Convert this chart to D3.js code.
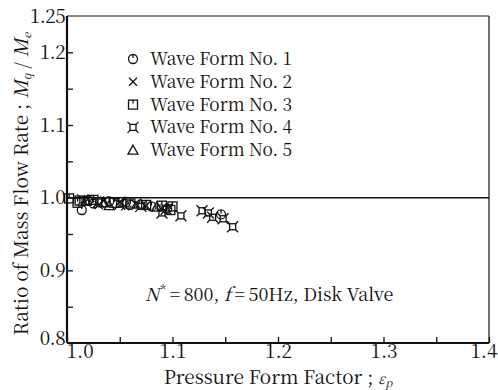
<!DOCTYPE html>
<html><head><meta charset="utf-8">
<script src="https://cdn.jsdelivr.net/npm/d3@7"></script>
<style>body{margin:0;background:#fff}svg{display:block}</style>
</head><body><svg id="c" width="498" height="390"></svg>
<script>
const xTicks=[1.0,1.1,1.2,1.3,1.4];
const yTicks=[0.8,0.9,1.0,1.1,1.2,1.25];
const seriesNames=["Wave Form No. 1","Wave Form No. 2","Wave Form No. 3","Wave Form No. 4","Wave Form No. 5"];
const wave1=[[1.014,0.983],[1.025,0.992],[1.04,0.995],[1.06,0.990],[1.08,0.988],[1.095,0.985],[1.146,0.977],[1.02,0.996]];
const wave2=[[1.02,0.998],[1.035,0.996],[1.05,0.994],[1.065,0.992],[1.075,0.989],[1.09,0.986],[1.03,0.990],[1.055,0.988]];
const wave3=[[1.002,0.999],[1.012,0.996],[1.025,0.997],[1.045,0.993],[1.06,0.992],[1.075,0.990],[1.09,0.989],[1.1,0.988],[1.098,0.983],[1.01,0.993]];
const wave4=[[1.015,0.997],[1.03,0.994],[1.05,0.991],[1.07,0.988],[1.09,0.979],[1.094,0.984],[1.108,0.975],[1.128,0.982],[1.134,0.979],[1.138,0.973],[1.148,0.971],[1.157,0.960]];
const wave5=[[1.018,0.995],[1.035,0.993],[1.055,0.994],[1.07,0.991],[1.085,0.987],[1.04,0.989]];
const allSeries=[wave1,wave2,wave3,wave4,wave5];

const svg=d3.select("#c");
const L=67,R=489,T=16,B=343;
const x=d3.scaleLinear().domain([1.0,1.4]).range([L,R]);
const y=d3.scaleLinear().domain([0.8,1.25]).range([B,T]);
const FS=18, TFS=19;

svg.append("line").attr("x1",L).attr("x2",R).attr("y1",T).attr("y2",T).attr("stroke","#111").attr("stroke-width",1);
svg.append("line").attr("x1",R).attr("x2",R).attr("y1",T).attr("y2",B).attr("stroke","#111").attr("stroke-width",1.2);

const xa=d3.axisBottom(x).tickValues(d3.range(1.0,1.4001,0.05)).tickSize(-6).tickFormat(d=>{const v=Math.round(d*100)/100;return xTicks.some(t=>Math.abs(t-v)<1e-6)?v.toFixed(1):"";}).tickPadding(1);
const gx=svg.append("g").attr("transform",`translate(0,${B})`).call(xa).attr("font-size",TFS);
gx.select(".domain").attr("stroke-width",2.2).attr("d",`M${L},0H${R}`);
gx.selectAll("line").attr("stroke-width",1.3);
gx.selectAll("text").attr("dy","0.72em").attr("fill","#111");
gx.selectAll(".tick").filter(d=>Math.abs(d-1.0)<1e-6).select("text").attr("text-anchor","start").attr("x",-1);
gx.selectAll(".tick").filter(d=>Math.abs(d-1.4)<1e-6).select("text").attr("text-anchor","end").attr("x",8);
const ya=d3.axisLeft(y).tickValues(d3.range(0.8,1.2501,0.05)).tickSize(-6).tickFormat(d=>{const v=Math.round(d*100)/100;const f=yTicks.find(t=>Math.abs(t-v)<1e-6);return f===undefined?"":(Math.abs(f-1.25)<1e-6?"1.25":f.toFixed(1));}).tickPadding(2);
const gy=svg.append("g").attr("transform",`translate(${L},0)`).call(ya).attr("font-size",TFS);
gy.select(".domain").attr("stroke-width",2.2).attr("d",`M0,${B}V${T}`);
gy.selectAll("line").attr("stroke-width",1.3);
gy.selectAll(".tick").filter(d=>Math.abs(d-1.25)<1e-6||Math.abs(d-0.8)<1e-6).select("line").remove();
gy.selectAll(".tick").filter(d=>Math.abs(d-0.8)<1e-6).select("text").attr("dy","0.1em");
gy.selectAll("text").attr("fill","#111").attr("letter-spacing",-0.6);
svg.selectAll(".domain,.tick line").attr("stroke","#111");

svg.append("line").attr("x1",x(1.0)).attr("x2",x(1.4)).attr("y1",y(1.0)).attr("y2",y(1.0)).attr("stroke","#111").attr("stroke-width",1.5);

function marker(g,i,cx,cy){
  const s=g.append("g").attr("transform",`translate(${cx},${cy})`).attr("fill","none").attr("stroke","#111").attr("stroke-width",1.3);
  if(i===0){s.append("circle").attr("r",4.5);s.append("line").attr("x1",0).attr("x2",0).attr("y1",-4.5).attr("y2",-1);}
  else if(i===1){s.append("path").attr("d","M-4,-4L4,4M-4,4L4,-4");}
  else if(i===2){s.append("rect").attr("x",-4.5).attr("y",-4.5).attr("width",9).attr("height",9);s.append("line").attr("x1",0).attr("x2",0).attr("y1",-4.5).attr("y2",-1);}
  else if(i===3){s.append("rect").attr("x",-3).attr("y",-3).attr("width",6).attr("height",6);s.append("path").attr("d","M-5.5,-5.5L-3,-3M5.5,-5.5L3,-3M-5.5,5.5L-3,3M5.5,5.5L3,3");}
  else {s.append("path").attr("d","M0,-5L5,4H-5Z");}
}
const pg=svg.append("g");
allSeries.forEach((ser,i)=>ser.forEach(p=>marker(pg,i,x(p[0]),y(p[1]))));

const lg=svg.append("g").attr("font-size",FS).attr("fill","#111");
seriesNames.forEach((n,i)=>{
  const yy=59+i*22.8;
  marker(lg,i,133,yy);
  lg.append("text").attr("x",150).attr("y",yy+6).attr("textLength",142).attr("lengthAdjust","spacingAndGlyphs").text(n);
});

const ann=svg.append("text").attr("x",145).attr("y",301).attr("font-size",FS).attr("fill","#111");
ann.append("tspan").attr("font-style","italic").text("N");
ann.append("tspan").attr("dy",-7).attr("dx",1).attr("font-size",12).text("*");
ann.append("tspan").attr("dy",7).text("\u2009=\u2009800, ");
ann.append("tspan").attr("font-style","italic").text("f");
ann.append("tspan").text("\u2009=\u200950Hz, Disk Valve");

const xt=svg.append("text").attr("x",278).attr("y",384).attr("text-anchor","middle").attr("font-size",TFS).attr("fill","#111");
xt.append("tspan").text("Pressure Form Factor ; ");
xt.append("tspan").attr("font-style","italic").attr("font-size",14).text("ε");
xt.append("tspan").attr("font-style","italic").attr("font-size",11).attr("dy",3).text("p");
const yt=svg.append("text").attr("transform","translate(28,184) rotate(-90)").attr("text-anchor","middle").attr("font-size",TFS).attr("fill","#111");
yt.append("tspan").text("Ratio of Mass Flow Rate ; ");
yt.append("tspan").attr("font-style","italic").text("M");
yt.append("tspan").attr("font-style","italic").attr("font-size",11).attr("dy",3).text("q");
yt.append("tspan").attr("dy",-3).text(" / ");
yt.append("tspan").attr("font-style","italic").text("M");
yt.append("tspan").attr("font-style","italic").attr("font-size",11).attr("dy",3).text("e");

svg.selectAll("g").attr("font-family",null);
svg.selectAll("text").style("font-family",'"Noto Serif CJK JP"');
</script></body></html>
